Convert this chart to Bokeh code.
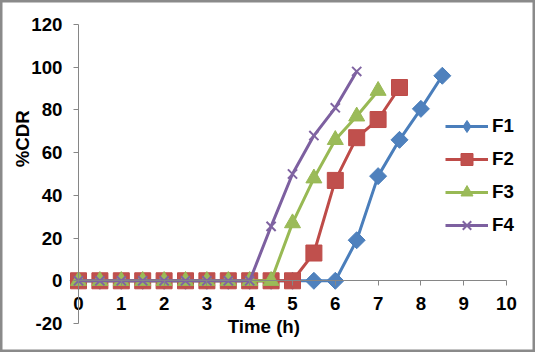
import math
from bokeh.plotting import figure
from bokeh.models import Range1d, FixedTicker, Label, Legend, LegendItem
from bokeh.embed import file_html
from bokeh.resources import INLINE

# ---- data ----
time_h = [0.0, 0.5, 1.0, 1.5, 2.0, 2.5, 3.0, 3.5, 4.0, 4.5, 5.0, 5.5, 6.0, 6.5, 7.0, 7.5, 8.0, 8.5]
f1 = [0, 0, 0, 0, 0, 0, 0, 0, 0, 0, 0, 0, 0, 19, 49, 66, 80.5, 96]
f2 = [0, 0, 0, 0, 0, 0, 0, 0, 0, 0, 0, 13, 47, 67, 75.5, 90.5]
f3 = [0, 0, 0, 0, 0, 0, 0, 0, 0, 0, 27, 48, 66, 77, 89]
f4 = [0, 0, 0, 0, 0, 0, 0, 0, 0, 25.5, 50, 68, 81, 98]
series_names = ["F1", "F2", "F3", "F4"]
x_ticks = [0, 1, 2, 3, 4, 5, 6, 7, 8, 9, 10]
y_ticks = [-20, 0, 20, 40, 60, 80, 100, 120]
x_bounds = (0, 10)
y_bounds = (-20, 120)
x_title = "Time (h)"
y_title = "%CDR"

FONT = "Liberation Sans"
FSIZE = "18.7px"
AXIS_COLOR = "#868686"

# plot area inside the canvas (pixels): left 78, right 506, top 24, bottom 323
W, H = 535, 352
L, R, T, B = 78, 506, 24, 323
xs_per_px = (x_bounds[1] - x_bounds[0]) / (R - L)
ys_per_px = (y_bounds[1] - y_bounds[0]) / (B - T)
x_range = Range1d(x_bounds[0] - L * xs_per_px, x_bounds[1] + (W - R) * xs_per_px)
y_range = Range1d(y_bounds[0] - (H - B) * ys_per_px, y_bounds[1] + T * ys_per_px)

p = figure(width=W, height=H, output_backend="svg", toolbar_location=None,
           x_range=x_range, y_range=y_range,
           min_border_left=0, min_border_right=0, min_border_top=0, min_border_bottom=0)
p.xgrid.visible = False
p.ygrid.visible = False
p.outline_line_color = "#8a8a8a"
p.outline_line_width = 4
p.background_fill_color = "white"
p.border_fill_color = "white"

# axes
p.xaxis.fixed_location = 0
p.yaxis.fixed_location = 0
p.xaxis.bounds = x_bounds
p.yaxis.bounds = y_bounds
p.xaxis.ticker = FixedTicker(ticks=x_ticks)
p.yaxis.ticker = FixedTicker(ticks=y_ticks)
p.yaxis.major_label_overrides = {t: str(t) for t in y_ticks}
for ax in (p.xaxis, p.yaxis):
    ax.axis_line_color = AXIS_COLOR
    ax.axis_line_width = 1
    ax.major_tick_line_color = AXIS_COLOR
    ax.major_tick_in = 0
    ax.major_tick_out = 5
    ax.minor_tick_line_color = None
    ax.major_label_text_font = FONT
    ax.major_label_text_font_size = FSIZE
    ax.major_label_text_font_style = "bold"
    ax.major_label_text_color = "black"
p.xaxis.major_label_standoff = 11
p.yaxis.major_label_standoff = 11

styles = [
    dict(name=series_names[0], y=f1, line="#4A7EBB", fill="#4F81BD", marker="diamond", size=10),
    dict(name=series_names[1], y=f2, line="#BE4B48", fill="#C0504D", marker="square", size=16),
    dict(name=series_names[2], y=f3, line="#98B954", fill="#9BBB59", marker="triangle", size=16),
    dict(name=series_names[3], y=f4, line="#7D60A0", fill="#8064A2", marker="x", size=13),
]

items = []
for s in styles:
    xs = time_h[:len(s["y"])]
    ln = p.line(xs, s["y"], line_color=s["line"], line_width=3)
    if s["marker"] == "x":
        sc = p.scatter(xs, s["y"], marker="x", size=s["size"], line_color=s["fill"], line_width=2)
    else:
        sc = p.scatter(xs, s["y"], marker=s["marker"], size=s["size"],
                       fill_color=s["fill"], line_color=s["line"], line_width=1)
    if s["marker"] == "diamond":
        # wider Excel-style diamond drawn on top of the small legend diamond
        if hasattr(p, "ngon"):
            p.ngon(xs, s["y"], radius=8.5, radius_units="screen", n=4,
                   fill_color=s["fill"], line_color=s["line"], line_width=1)
        else:
            sc.glyph.size = 17
    items.append(LegendItem(label=s["name"], renderers=[ln, sc]))

legend = Legend(items=items, location=(445, 112), orientation="vertical",
                glyph_width=43, glyph_height=30, spacing=3, padding=0, margin=0,
                label_standoff=4, label_text_font=FONT, label_text_font_size=FSIZE,
                label_text_font_style="bold", label_text_color="black",
                border_line_color=None, background_fill_alpha=0)
p.add_layout(legend)

p.add_layout(Label(x=4.33, y=-21.3, text=x_title, text_align="center", text_baseline="middle",
                   text_font=FONT, text_font_size=FSIZE, text_font_style="bold",
                   text_color="black"))
p.add_layout(Label(x=-1.30, y=66.5, text=y_title, angle=math.pi / 2, text_align="center",
                   text_baseline="middle", text_font=FONT, text_font_size=FSIZE,
                   text_font_style="bold", text_color="black"))

open("out.html", "w").write(file_html(p, INLINE))
